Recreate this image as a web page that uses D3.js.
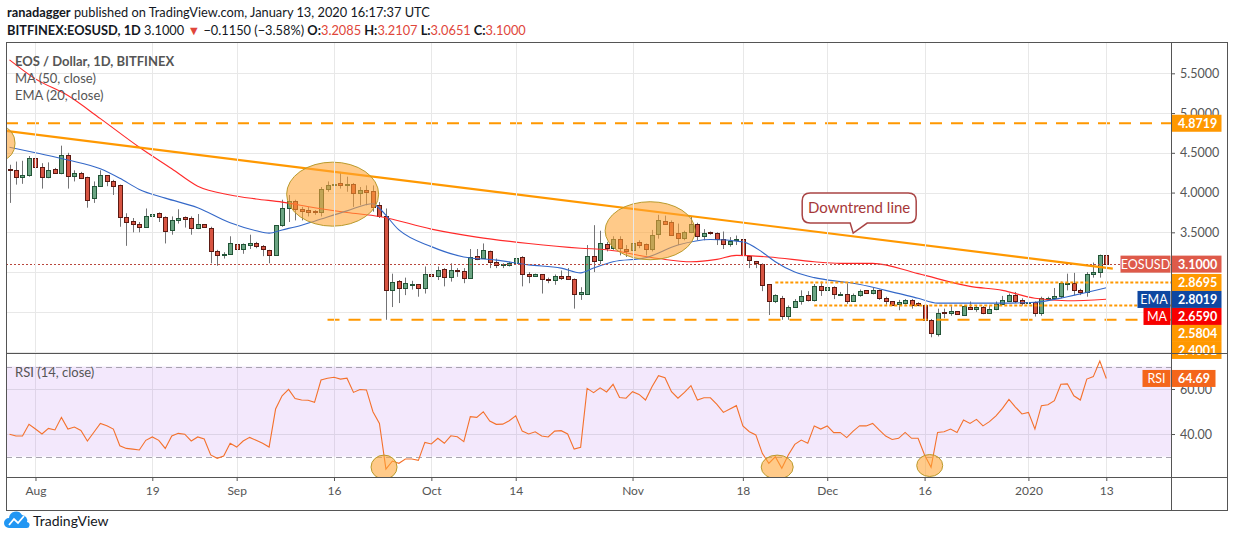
<!DOCTYPE html>
<html>
<head>
<meta charset="utf-8">
<script src="https://cdn.jsdelivr.net/npm/d3@7"></script>
<style>
  body { margin: 0; background: #fff; }
  svg { display: block; font-family: Lato, "Liberation Sans", sans-serif; }
</style>
</head>
<body>
<div class="canvas"></div>
<script>
// EOS / Dollar daily candles, 2019-07-28 .. 2020-01-13 (one value per day)
const START = '2019-07-28';

const opens = [
  4.30,4.28,4.20,4.22,4.43,4.32,4.19,4.30,4.24,4.47,
  4.21,4.25,4.19,3.93,4.08,4.22,4.15,4.10,3.69,3.64,
  3.60,3.57,3.70,3.74,3.69,3.53,3.65,3.69,3.68,3.56,
  3.60,3.56,3.27,3.22,3.23,3.35,3.29,3.34,3.37,3.33,
  3.28,3.22,3.59,3.80,3.89,3.79,3.78,3.77,3.75,4.05,
  4.09,4.12,4.10,4.11,3.99,4.03,4.02,3.84,3.70,2.77,
  2.89,2.80,2.84,2.85,2.80,2.98,2.95,3.04,2.94,3.03,
  3.01,2.92,3.20,3.18,3.27,3.13,3.09,3.09,3.12,3.19,
  2.98,2.95,2.97,2.91,2.90,2.95,2.95,2.91,2.73,2.73,
  3.20,3.15,3.35,3.30,3.42,3.29,3.28,3.38,3.35,3.29,
  3.48,3.64,3.63,3.49,3.43,3.50,3.60,3.46,3.50,3.49,
  3.41,3.35,3.40,3.42,3.20,3.14,3.10,2.85,2.63,2.68,
  2.45,2.56,2.64,2.71,2.65,2.82,2.77,2.81,2.72,2.73,
  2.64,2.71,2.77,2.74,2.77,2.68,2.63,2.60,2.61,2.65,
  2.61,2.58,2.40,2.22,2.50,2.48,2.51,2.46,2.56,2.53,
  2.56,2.49,2.54,2.60,2.64,2.71,2.65,2.61,2.62,2.48,
  2.67,2.67,2.70,2.86,2.86,2.78,2.75,2.98,3.00,3.2085
];
const highs = [
  4.35,4.39,4.40,4.46,4.44,4.37,4.38,4.31,4.59,4.50,
  4.28,4.26,4.20,4.14,4.28,4.22,4.16,4.10,3.74,3.68,
  3.63,3.80,3.82,3.75,3.70,3.70,3.79,3.70,3.70,3.73,
  3.60,3.57,3.28,3.25,3.45,3.35,3.36,3.47,3.38,3.34,
  3.28,3.59,3.91,3.97,3.91,3.82,3.82,3.78,4.07,4.14,
  4.20,4.26,4.20,4.12,4.07,4.09,4.09,3.88,3.80,2.98,
  2.90,2.93,2.89,2.85,3.07,3.15,3.07,3.05,3.11,3.05,
  3.05,3.29,3.29,3.36,3.27,3.17,3.11,3.13,3.21,3.20,
  3.00,2.98,2.97,2.93,2.97,3.02,3.05,2.92,2.81,3.34,
  3.59,3.52,3.38,3.45,3.45,3.34,3.45,3.40,3.36,3.53,
  3.72,3.71,3.65,3.61,3.52,3.70,3.62,3.54,3.51,3.50,
  3.51,3.44,3.46,3.42,3.21,3.14,3.11,2.85,2.72,2.70,
  2.58,2.66,2.77,2.76,2.85,2.88,2.84,2.82,2.75,2.86,
  2.73,2.78,2.77,2.80,2.78,2.69,2.63,2.65,2.66,2.66,
  2.62,2.60,2.41,2.54,2.54,2.57,2.51,2.58,2.63,2.58,
  2.57,2.58,2.63,2.70,2.73,2.75,2.67,2.65,2.63,2.69,
  2.69,2.80,2.88,2.98,2.99,2.79,3.00,3.12,3.22,3.2107
];
const lows = [
  3.87,4.10,4.11,4.20,4.29,4.05,4.18,4.24,4.23,4.05,
  4.14,4.17,3.81,3.87,4.07,4.08,3.97,3.57,3.33,3.50,
  3.50,3.56,3.69,3.63,3.36,3.47,3.61,3.56,3.47,3.54,
  3.56,3.11,3.08,3.17,3.23,3.11,3.23,3.29,3.30,3.20,
  3.11,3.21,3.57,3.63,3.65,3.65,3.70,3.72,3.70,4.01,
  3.96,4.05,4.01,3.82,3.84,3.84,3.76,3.68,2.40,2.56,
  2.61,2.71,2.78,2.69,2.73,2.88,2.90,2.82,2.88,2.94,
  2.86,2.92,3.15,3.18,3.05,3.05,3.05,3.07,3.11,2.82,
  2.86,2.94,2.73,2.86,2.84,2.90,2.90,2.54,2.65,2.73,
  3.00,3.10,3.26,3.28,3.21,3.19,3.26,3.30,3.21,3.26,
  3.42,3.60,3.47,3.34,3.40,3.49,3.40,3.40,3.47,3.34,
  3.29,3.32,3.34,3.05,3.05,3.05,2.76,2.46,2.61,2.40,
  2.40,2.55,2.59,2.63,2.63,2.70,2.70,2.66,2.70,2.60,
  2.63,2.69,2.73,2.72,2.65,2.59,2.58,2.52,2.59,2.54,
  2.57,2.28,2.18,2.19,2.42,2.45,2.46,2.46,2.53,2.50,
  2.47,2.48,2.52,2.59,2.63,2.61,2.58,2.58,2.44,2.45,
  2.65,2.66,2.67,2.77,2.71,2.71,2.69,2.93,2.93,3.0651
];
const closes = [
  4.28,4.20,4.22,4.44,4.32,4.19,4.29,4.25,4.47,4.21,
  4.24,4.18,3.91,4.08,4.22,4.14,4.08,3.69,3.63,3.60,
  3.57,3.70,3.73,3.69,3.52,3.65,3.68,3.67,3.55,3.60,
  3.57,3.26,3.21,3.23,3.36,3.29,3.35,3.37,3.33,3.29,
  3.22,3.59,3.80,3.89,3.79,3.77,3.76,3.75,4.05,4.09,
  4.11,4.10,4.11,3.99,4.03,4.01,3.82,3.70,2.77,2.88,
  2.80,2.86,2.85,2.80,2.98,2.95,3.03,2.94,3.03,3.01,
  2.92,3.19,3.17,3.28,3.13,3.09,3.10,3.12,3.18,2.98,
  2.95,2.97,2.91,2.90,2.95,2.92,2.91,2.73,2.75,3.20,
  3.14,3.36,3.30,3.42,3.30,3.27,3.37,3.34,3.29,3.47,
  3.65,3.61,3.47,3.43,3.51,3.60,3.45,3.49,3.49,3.41,
  3.35,3.39,3.42,3.21,3.15,3.11,2.84,2.64,2.71,2.45,
  2.56,2.64,2.70,2.65,2.82,2.77,2.81,2.72,2.73,2.64,
  2.71,2.76,2.74,2.77,2.68,2.63,2.59,2.62,2.65,2.59,
  2.59,2.40,2.23,2.48,2.48,2.51,2.47,2.57,2.53,2.56,
  2.49,2.53,2.60,2.65,2.71,2.64,2.61,2.62,2.48,2.67,
  2.68,2.70,2.86,2.86,2.78,2.75,2.98,3.00,3.215,3.10
];

// RSI (14, close), one value per day
const rsiValues = [
  39.9,39.1,39.1,44.3,42.2,40.0,42.5,41.8,47.4,42.2,
  43.1,41.6,36.9,40.8,44.7,43.7,42.2,34.8,33.6,33.3,
  32.9,37.2,38.7,37.2,33.6,39.1,40.3,39.9,36.9,38.7,
  37.8,30.7,29.2,30.2,35.9,34.2,36.9,38.5,37.2,35.9,
  34.2,51.1,57.0,59.8,55.8,55.1,55.0,54.1,64.0,64.8,
  65.2,64.4,64.8,58.5,59.8,59.6,49.9,44.7,24.4,28.0,
  27.0,28.9,28.9,28.3,36.3,35.6,38.1,35.9,39.2,38.8,
  36.6,47.7,47.4,49.9,45.8,44.3,44.4,45.9,48.1,41.3,
  40.0,41.0,39.1,38.7,41.3,41.5,40.0,33.3,34.1,60.3,
  58.4,60.5,58.7,62.1,56.2,55.9,58.8,57.6,55.1,61.0,
  65.9,65.0,58.8,55.9,58.5,61.5,55.1,56.1,56.1,53.2,
  49.6,51.1,52.6,43.6,41.0,39.6,31.4,27.0,29.9,24.8,
  30.7,35.4,37.3,35.9,43.6,42.2,43.6,40.6,40.7,38.4,
  41.3,43.7,43.6,44.7,41.8,39.1,37.6,38.1,40.7,38.1,
  38.1,30.7,25.2,40.7,41.0,42.2,40.7,46.2,44.7,46.5,
  43.6,45.5,48.1,51.4,55.4,52.0,48.9,49.6,42.2,52.6,
  53.0,54.8,62.1,62.3,57.0,55.1,64.4,65.5,72.4,64.69
];

// moving averages (day index from START, value)
const maDays   = [0,4,9,14,20,25,29,34,38,42,47,52,57,65,72,80,88,92,100,105,109,112,117,124,128,133,140,148,153,158,163,169];
const maValues = [5.67,5.43,5.22,4.93,4.57,4.30,4.08,3.97,3.92,3.88,3.81,3.75,3.70,3.54,3.44,3.36,3.30,3.28,3.17,3.13,3.16,3.21,3.19,3.13,3.11,3.11,2.98,2.82,2.77,2.67,2.64,2.659];
const emaDays   = [0,4,9,14,17,20,24,29,34,38,40,42,45,47,52,56,57,60,65,70,75,80,85,88,90,93,98,103,108,113,116,118,121,124,128,130,135,140,143,148,153,158,163,169];
const emaValues = [4.57,4.50,4.41,4.30,4.18,4.04,3.93,3.81,3.62,3.52,3.49,3.53,3.59,3.64,3.77,3.86,3.80,3.53,3.32,3.19,3.15,3.09,3.05,2.99,3.05,3.13,3.18,3.34,3.41,3.38,3.25,3.13,3.00,2.93,2.88,2.86,2.77,2.67,2.61,2.61,2.61,2.62,2.69,2.8019];

// drawn levels
const levelValues = [4.8719, 2.8695, 2.5804, 2.4001];
const levelStarts = [null, '2019-11-23', '2019-11-29', '2019-09-15'];
const levelStyles = ['dash', 'dot', 'dot', 'dash'];
const trendDates  = ['2019-07-27', '2020-01-14'];
const trendPrices = [4.780, 3.043];

// axes
const tickDates  = ['2019-08-01','2019-08-19','2019-09-01','2019-09-16','2019-10-01','2019-10-14','2019-11-01','2019-11-18','2019-12-01','2019-12-16','2020-01-01','2020-01-13'];
const tickLabels = ['Aug','19','Sep','16','Oct','14','Nov','18','Dec','16','2020','13'];
const priceTicks = [5.5, 5.0, 4.5, 4.0, 3.5, 3.0, 2.5, 2.0];
const rsiTicks   = [60, 40];

const W = 1234, H = 540;
const L = 6, R = 1171, AR = 1227, TOP = 42, SPLIT = 353, RB = 477, BOT = 510;

const parse = d3.utcParse('%Y-%m-%d');
const t0 = parse(START);
const dayAt = i => d3.utcDay.offset(t0, i);

const candles = closes.map((c, i) => ({ date: dayAt(i), o: opens[i], h: highs[i], l: lows[i], c }));

const x = d3.scaleUtc()
  .domain([new Date(Date.UTC(2019, 6, 27, 11)), new Date(Date.UTC(2020, 0, 22, 23, 17))])
  .range([L, R]);
const y = d3.scaleLinear().domain([1.982, 5.894]).range([SPLIT, TOP]);
const yR = d3.scaleLinear().domain([20.9, 76]).range([RB, SPLIT]);

const svg = d3.select('.canvas').append('svg')
  .attr('width', W)
  .attr('height', H);

const defs = svg.append('defs');
defs.append('clipPath').attr('id', 'clip-main').append('rect')
  .attr('x', L).attr('y', TOP).attr('width', R - L).attr('height', SPLIT - TOP);
defs.append('clipPath').attr('id', 'clip-rsi').append('rect')
  .attr('x', L).attr('y', SPLIT).attr('width', R - L).attr('height', RB - SPLIT);

const px = v => Math.round(v) + 0.5;

// ---------- main pane ----------
const main = svg.append('g').attr('clip-path', 'url(#clip-main)');

main.selectAll('line.hgrid')
  .data(priceTicks)
  .join('line')
  .attr('class', 'hgrid')
  .attr('x1', L).attr('x2', R)
  .attr('y1', d => px(y(d))).attr('y2', d => px(y(d)))
  .attr('stroke', '#e8e8e8');

svg.selectAll('line.vgrid')
  .data(tickDates)
  .join('line')
  .attr('class', 'vgrid')
  .attr('x1', d => px(x(parse(d)))).attr('x2', d => px(x(parse(d))))
  .attr('y1', TOP).attr('y2', RB)
  .attr('stroke', '#e8e8e8');

// candles
const gc = main.append('g');
gc.selectAll('line')
  .data(candles)
  .join('line')
  .attr('x1', d => Math.round(x(d.date)) + 0.5)
  .attr('x2', d => Math.round(x(d.date)) + 0.5)
  .attr('y1', d => y(d.h))
  .attr('y2', d => y(d.l))
  .attr('stroke', '#737375');

gc.selectAll('rect')
  .data(candles)
  .join('rect')
  .attr('x', d => Math.round(x(d.date)) - 1.5)
  .attr('width', 4)
  .attr('y', d => Math.round(y(Math.max(d.o, d.c))) + 0.5)
  .attr('height', d => Math.max(1, Math.round(y(Math.min(d.o, d.c))) - Math.round(y(Math.max(d.o, d.c)))))
  .attr('fill', d => d.c >= d.o ? '#6ba583' : '#d75442')
  .attr('stroke', d => d.c >= d.o ? '#225437' : '#5b1a13');

// moving averages
const avgLine = d3.line()
  .x(d => x(dayAt(d[0])))
  .y(d => y(d[1]))
  .curve(d3.curveMonotoneX);

main.append('path')
  .datum(d3.zip(maDays, maValues))
  .attr('d', avgLine)
  .attr('fill', 'none')
  .attr('stroke', '#ff2a2a')
  .attr('stroke-width', 1.1);

main.append('path')
  .datum(d3.zip(emaDays, emaValues))
  .attr('d', avgLine)
  .attr('fill', 'none')
  .attr('stroke', '#3468c8')
  .attr('stroke-width', 1.1);

// horizontal levels
const levels = levelValues.map((v, i) => ({ v, start: levelStarts[i], style: levelStyles[i] }));
main.selectAll('line.level')
  .data(levels)
  .join('line')
  .attr('class', 'level')
  .attr('x1', d => d.start ? x(parse(d.start)) : L)
  .attr('x2', R)
  .attr('y1', d => y(d.v)).attr('y2', d => y(d.v))
  .attr('stroke', '#ff9800')
  .attr('stroke-width', 2)
  .attr('stroke-dasharray', d => d.style === 'dash' ? '12,9' : '3,2');

// last price line
main.append('line')
  .attr('x1', L).attr('x2', R)
  .attr('y1', px(y(closes[closes.length - 1])))
  .attr('y2', px(y(closes[closes.length - 1])))
  .attr('stroke', '#b8463c')
  .attr('stroke-dasharray', '2,2');

// trend line
main.append('line')
  .attr('x1', x(parse(trendDates[0]))).attr('y1', y(trendPrices[0]))
  .attr('x2', x(parse(trendDates[1]))).attr('y2', y(trendPrices[1]))
  .attr('stroke', '#ff9800')
  .attr('stroke-width', 2.2);

// highlight ellipses
const mainMarks = [
  { date: '2019-07-27T00:00:00Z', price: 4.62, rx: 12, ry: 16 },
  { date: '2019-09-15T19:00:00Z', price: 3.98, rx: 46, ry: 32 },
  { date: '2019-11-03T17:00:00Z', price: 3.52, rx: 45, ry: 29 }
];
main.selectAll('ellipse')
  .data(mainMarks)
  .join('ellipse')
  .attr('cx', d => x(d3.isoParse(d.date)))
  .attr('cy', d => y(d.price))
  .attr('rx', d => d.rx)
  .attr('ry', d => d.ry)
  .attr('fill', 'rgba(255,163,51,0.58)')
  .attr('stroke', '#b99a2c')
  .attr('stroke-width', 1);

// callout
const anchor = { date: '2019-12-05', price: 3.49 };
const ax = x(parse(anchor.date)), ay = y(anchor.price);
const bl = ax - 51, br = ax + 63, bt = ay - 40, bb = ay - 10, r = 8;
svg.append('path')
  .attr('d', `M${bl + r},${bt} H${br - r} Q${br},${bt} ${br},${bt + r} V${bb - r} Q${br},${bb} ${br - r},${bb}
    H${ax + 14} L${ax},${ay} L${ax - 3},${bb} H${bl + r} Q${bl},${bb} ${bl},${bb - r} V${bt + r} Q${bl},${bt} ${bl + r},${bt} Z`)
  .attr('fill', '#fff')
  .attr('stroke', '#a94444')
  .attr('stroke-width', 1.5);
svg.append('text')
  .attr('x', (bl + br) / 2).attr('y', bt + 20)
  .attr('text-anchor', 'middle')
  .attr('font-size', 15)
  .attr('fill', '#a63838')
  .text('Downtrend line');

// legend
const legend = svg.append('g').attr('fill', '#555').attr('font-size', 13);
legend.append('text').attr('x', 15).attr('y', 66).attr('font-weight', 700).text('EOS / Dollar, 1D, BITFINEX');
legend.append('text').attr('x', 15).attr('y', 83).text('MA (50, close)');
legend.append('text').attr('x', 15).attr('y', 100).text('EMA (20, close)');

// ---------- RSI pane ----------
const rsiG = svg.append('g').attr('clip-path', 'url(#clip-rsi)');

rsiG.append('rect')
  .attr('x', L).attr('width', R - L)
  .attr('y', yR(70)).attr('height', yR(30) - yR(70))
  .attr('fill', 'rgba(160,76,235,0.13)');

rsiG.selectAll('line.rgrid')
  .data(rsiTicks)
  .join('line')
  .attr('class', 'rgrid')
  .attr('x1', L).attr('x2', R)
  .attr('y1', d => px(yR(d))).attr('y2', d => px(yR(d)))
  .attr('stroke', '#dcd3e6');

rsiG.selectAll('line.band')
  .data([70, 30])
  .join('line')
  .attr('class', 'band')
  .attr('x1', L).attr('x2', R)
  .attr('y1', d => px(yR(d))).attr('y2', d => px(yR(d)))
  .attr('stroke', '#a8a4b0')
  .attr('stroke-dasharray', '6,4');

rsiG.append('path')
  .datum(rsiValues)
  .attr('d', d3.line().x((d, i) => x(dayAt(i))).y(d => yR(d)))
  .attr('fill', 'none')
  .attr('stroke', '#f4712c')
  .attr('stroke-width', 1.1);

const rsiMarks = [
  { date: '2019-09-23T17:00:00Z', v: 25.3, rx: 13, ry: 12 },
  { date: '2019-11-23T07:00:00Z', v: 25.3, rx: 16, ry: 12 },
  { date: '2019-12-16T19:00:00Z', v: 26.0, rx: 13, ry: 11 }
];
rsiG.selectAll('ellipse')
  .data(rsiMarks)
  .join('ellipse')
  .attr('cx', d => x(d3.isoParse(d.date)))
  .attr('cy', d => yR(d.v))
  .attr('rx', d => d.rx)
  .attr('ry', d => d.ry)
  .attr('fill', 'rgba(255,163,51,0.58)')
  .attr('stroke', '#b99a2c');

svg.append('text')
  .attr('x', 15).attr('y', 377)
  .attr('font-size', 13).attr('fill', '#555')
  .text('RSI (14, close)');

// ---------- price labels on the axis (computed first so hidden ticks can be skipped) ----------
const last = closes.length - 1;
const fmt4 = d3.format('.4f');
const orange = '#ff9800';
const axisLabels = [
  { v: levelValues[0], color: orange },
  { v: closes[last], color: '#de5a4a', tag: 'EOSUSD', tagW: 50 },
  { v: levelValues[1], color: orange },
  { v: emaValues[emaValues.length - 1], color: '#0e47a1', tag: 'EMA', tagW: 33 },
  { v: maValues[maValues.length - 1], color: '#f70000', tag: 'MA', tagW: 27 },
  { v: levelValues[2], color: orange },
  { v: levelValues[3], color: orange }
].sort((a, b) => b.v - a.v);
let prevY = -Infinity;
axisLabels.forEach(d => { d.cy = Math.max(y(d.v), prevY + 17); prevY = d.cy; });

const visibleTicks = priceTicks.filter(t => axisLabels.every(d => Math.abs(y(t) - d.cy) > 8.5));

// ---------- axes ----------
const xAxis = svg.append('g')
  .attr('transform', `translate(0,${RB})`)
  .call(d3.axisBottom(x)
    .tickValues(tickDates.map(parse))
    .tickFormat((d, i) => tickLabels[i])
    .tickSize(4)
    .tickSizeOuter(0));
xAxis.select('.domain').remove();
xAxis.selectAll('line').attr('stroke', '#555');
xAxis.selectAll('text').attr('font-size', 12).attr('fill', '#555').attr('font-family', 'Lato').attr('dy', '0.95em');

const yAxis = svg.append('g')
  .attr('transform', `translate(${R},0)`)
  .call(d3.axisRight(y)
    .tickValues(visibleTicks)
    .tickFormat(d3.format('.4f'))
    .tickSize(4)
    .tickSizeOuter(0));
yAxis.select('.domain').remove();
yAxis.selectAll('line').attr('stroke', '#555');
yAxis.selectAll('text').attr('font-size', 12.5).attr('fill', '#555').attr('font-family', 'Lato').attr('x', 9);

const rAxis = svg.append('g')
  .attr('transform', `translate(${R},0)`)
  .call(d3.axisRight(yR)
    .tickValues(rsiTicks)
    .tickFormat(d3.format('.2f'))
    .tickSize(4)
    .tickSizeOuter(0));
rAxis.select('.domain').remove();
rAxis.selectAll('line').attr('stroke', '#555');
rAxis.selectAll('text').attr('font-size', 12.5).attr('fill', '#555').attr('font-family', 'Lato').attr('x', 9);

const labelG = svg.append('g').attr('font-size', 12.5).attr('font-weight', 700).attr('fill', '#fff');
axisLabels.forEach(d => {
  labelG.append('rect').attr('x', R + 0.5).attr('y', d.cy - 8.5).attr('width', 50).attr('height', 17).attr('fill', d.color);
  labelG.append('text').attr('x', R + 7).attr('y', d.cy + 4.5).text(fmt4(d.v));
  if (d.tag) {
    labelG.append('rect').attr('x', R - 0.5 - d.tagW).attr('y', d.cy - 8.5).attr('width', d.tagW).attr('height', 17).attr('fill', d.color);
    labelG.append('text').attr('x', R - 0.5 - d.tagW / 2).attr('y', d.cy + 4.5).attr('text-anchor', 'middle').attr('font-weight', 400).text(d.tag);
  }
});
const rsiLast = rsiValues[rsiValues.length - 1];
const rcy = yR(rsiLast);
labelG.append('rect').attr('x', R + 0.5).attr('y', rcy - 8.5).attr('width', 44).attr('height', 17).attr('fill', '#f4661b');
labelG.append('text').attr('x', R + 7).attr('y', rcy + 4.5).text(d3.format('.2f')(rsiLast));
labelG.append('rect').attr('x', R - 28.5).attr('y', rcy - 8.5).attr('width', 28).attr('height', 17).attr('fill', '#f4661b');
labelG.append('text').attr('x', R - 14.5).attr('y', rcy + 4.5).attr('text-anchor', 'middle').attr('font-weight', 400).text('RSI');

// ---------- frame ----------
const frame = svg.append('g').attr('stroke', '#555').attr('fill', 'none').attr('shape-rendering', 'crispEdges');
frame.append('rect').attr('x', L).attr('y', TOP).attr('width', AR - L).attr('height', BOT - TOP);
frame.append('line').attr('x1', R).attr('x2', R).attr('y1', TOP).attr('y2', BOT);
frame.append('line').attr('x1', L).attr('x2', AR).attr('y1', SPLIT).attr('y2', SPLIT);
frame.append('line').attr('x1', L).attr('x2', AR).attr('y1', RB).attr('y2', RB);

// ---------- header ----------
const minus = s => s.replace('-', '\u2212');
const change = closes[last] - closes[last - 1];
const pct = change / closes[last - 1] * 100;
const red = '#e0463a';

const h1 = svg.append('text').attr('x', 7).attr('y', 17).attr('font-size', 12.8).attr('fill', '#131722');
h1.append('tspan').attr('font-weight', 700).text('ranadagger');
h1.append('tspan').text(' published on TradingView.com, January 13, 2020 16:17:37 UTC');

const h2 = svg.append('text').attr('x', 7).attr('y', 35).attr('font-size', 12.8).attr('fill', '#131722');
h2.append('tspan').attr('font-weight', 700).text('BITFINEX:EOSUSD, 1D');
h2.append('tspan').text(' ' + fmt4(closes[last]) + ' ');
h2.append('tspan').attr('fill', red).text('\u25bc');
h2.append('tspan').text(' ' + minus(fmt4(change)) + ' (' + minus(d3.format('.2f')(pct)) + '%) ');
[['O:', opens[last]], ['H:', highs[last]], ['L:', lows[last]], ['C:', closes[last]]].forEach(([k, v], i) => {
  h2.append('tspan').attr('font-weight', 700).text((i ? ' ' : '') + k);
  h2.append('tspan').attr('fill', red).text(fmt4(v));
});

// ---------- footer ----------
const logo = svg.append('g');
logo.append('path')
  .attr('d', 'M9,528 a5,5 0 0 1 0,-10 a7,7 0 0 1 13,-3 a5.5,5.5 0 0 1 5,7 a3,3 0 0 1 -1,6 Z')
  .attr('fill', '#2196f3');
logo.append('polyline')
  .attr('points', '9,525 14,519 18,523 24,516')
  .attr('fill', 'none').attr('stroke', '#fff').attr('stroke-width', 1.8);
svg.append('text')
  .attr('x', 33).attr('y', 526)
  .attr('font-size', 14).attr('fill', '#131722')
  .text('TradingView');
</script>
</body>
</html>
